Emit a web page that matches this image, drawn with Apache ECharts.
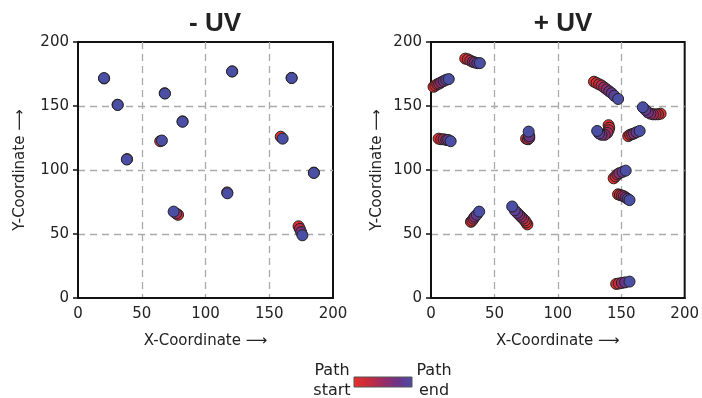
<!DOCTYPE html>
<html>
<head>
<meta charset="utf-8">
<script src="https://cdn.jsdelivr.net/npm/echarts@6/dist/echarts.min.js"></script>
<style>
  html, body { margin: 0; padding: 0; background: #fff; }
  #main { width: 702px; height: 398px; }
</style>
</head>
<body>
<div id="main"></div>
<script>
// tracks: each is a list of [x, y] from path start to path end
var minusTracks = [
    [[20.5, 171.5], [20.4, 171.8]],
    [[31, 151], [31.2, 150.8]],
    [[38.5, 108.5], [38.3, 108.2]],
    [[68, 160], [68.2, 159.7]],
    [[64.5, 122.5], [65.8, 123]],
    [[82, 138], [82, 137.7]],
    [[121, 177], [120.8, 177]],
    [[167.5, 172], [167.6, 171.8]],
    [[159, 126], [160.5, 124.5]],
    [[185, 98], [185, 97.7]],
    [[117, 82.5], [117.2, 81.8]],
    [[78.5, 65], [77, 66], [75, 67.5]],
    [[173, 56], [174, 54], [175, 51.5], [176, 49]]
];

var plusTracks = [
    [[2, 165], [3.5, 166], [5, 167], [6.5, 167.5], [8, 168.5], [10, 169.5], [12, 170.5], [14, 171]],
    [[27, 187], [29, 186.5], [31, 185.5], [33, 184.5], [34.5, 184], [36.5, 183.5], [38.5, 183.5]],
    [[6, 124.5], [8, 124], [10, 124], [12, 123.5], [13.5, 123.5], [15.5, 122.5]],
    [[75, 124.5], [76.5, 124], [77.5, 125], [77.5, 126.5], [77, 130]],
    [[128.5, 169], [130.5, 168], [132.5, 167], [134.5, 166], [136.5, 164.5], [138.5, 163], [140.5, 161.5], [142.5, 160], [144.5, 158], [147.5, 155.5]],
    [[140, 135], [140.5, 133], [140, 131], [139, 129], [137, 127.5], [134.5, 127.5], [132.5, 128.5], [131, 130.5]],
    [[181, 144], [179, 143.5], [177, 143.5], [175, 143.5], [173, 144], [171, 145], [169, 147], [167, 149]],
    [[155.5, 126.5], [157, 127.5], [158.5, 128], [160, 128.5], [162, 129.5], [164.5, 130.5]],
    [[144, 93.5], [145.5, 95], [147, 96.5], [148.5, 97.5], [151, 98.5], [153.5, 99.5]],
    [[147.5, 81], [149, 80.5], [150.5, 80], [152, 79.5], [153.5, 78.5], [155, 77.5], [156.5, 76.5]],
    [[31.5, 59.5], [32.5, 60.5], [33.5, 62], [34.5, 63.5], [36, 65], [38, 67.5]],
    [[76, 57.5], [75, 59], [74, 60.5], [72.5, 62], [71, 63.5], [69.5, 65], [68, 66.5], [66, 68.5], [64, 71.5]],
    [[146, 11], [148, 11.3], [150.5, 11.8], [153, 12.2], [156.5, 12.8]]
];

var panelTitles = ['- UV', '+ UV'];
var axisTicks = [0, 50, 100, 150, 200];
var pathColors = ['#e8302c', '#c82b3c', '#9c2c64', '#6c3488', '#4b4ea5'];

var FONT = 'DejaVu Sans';

// third value = progress along the path (0 start, 1 end)
function toData(tracks) {
    var out = [];
    tracks.forEach(function (tr) {
        var n = tr.length;
        tr.forEach(function (p, i) {
            out.push([p[0], p[1], n > 1 ? i / (n - 1) : 1]);
        });
    });
    return out;
}

var split = {
    showMinLine: false,
    showMaxLine: false,
    lineStyle: { color: '#aaa', type: [7, 5], width: 1.3 }
};

function xAxis(idx) {
    return {
        gridIndex: idx,
        type: 'value',
        min: axisTicks[0],
        max: axisTicks[axisTicks.length - 1],
        interval: 50,
        name: 'X-Coordinate \u27F6',
        nameLocation: 'middle',
        nameGap: 36,
        nameTextStyle: { fontFamily: FONT, fontSize: 15, color: '#222' },
        axisLine: { lineStyle: { color: '#111', width: 2 } },
        axisTick: { show: false },
        axisLabel: { fontFamily: FONT, fontSize: 15, color: '#222', margin: 9 },
        splitLine: split
    };
}

function yAxis(idx, gap) {
    return {
        gridIndex: idx,
        type: 'value',
        min: axisTicks[0],
        max: axisTicks[axisTicks.length - 1],
        interval: 50,
        name: 'Y-Coordinate \u27F6',
        nameLocation: 'middle',
        nameRotate: 90,
        nameGap: gap,
        nameTextStyle: { fontFamily: FONT, fontSize: 15, color: '#222' },
        axisLine: { lineStyle: { color: '#111', width: 2 } },
        axisTick: { show: true, length: 5, lineStyle: { color: '#111', width: 1.5 } },
        axisLabel: { fontFamily: FONT, fontSize: 15, color: '#222', margin: 9 },
        splitLine: split
    };
}

function scatter(idx, tracks) {
    return {
        type: 'scatter',
        xAxisIndex: idx,
        yAxisIndex: idx,
        symbolSize: 11,
        itemStyle: { borderColor: '#222', borderWidth: 1, opacity: 1 },
        data: toData(tracks)
    };
}

var chart = echarts.init(document.getElementById('main'), null, { renderer: 'canvas' });

var gradStops = pathColors.map(function (c, i) {
    return { offset: i / (pathColors.length - 1), color: c };
});

chart.setOption({
    animation: false,
    backgroundColor: '#fff',
    title: [
        { text: panelTitles[0], left: 210, top: 6, textAlign: 'center',
          textStyle: { fontFamily: 'Liberation Sans', fontWeight: 'bold', fontSize: 26, color: '#222' } },
        { text: panelTitles[1], left: 558, top: 6, textAlign: 'center',
          textStyle: { fontFamily: 'Liberation Sans', fontWeight: 'bold', fontSize: 26, color: '#222' } }
    ],
    grid: [
        { left: 78, top: 42, width: 255, height: 256, show: true, borderColor: '#111', borderWidth: 2 },
        { left: 431, top: 42, width: 255, height: 256, show: true, borderColor: '#111', borderWidth: 2 }
    ],
    xAxis: [xAxis(0), xAxis(1)],
    yAxis: [yAxis(0, 50), yAxis(1, 46)],
    visualMap: {
        show: false,
        type: 'continuous',
        dimension: 2,
        min: 0,
        max: 1,
        seriesIndex: [0, 1],
        inRange: { color: pathColors }
    },
    series: [scatter(0, minusTracks), scatter(1, plusTracks)],
    graphic: [
        { type: 'text',
          style: { x: 332, y: 361, text: 'Path\nstart', fontFamily: FONT, fontSize: 16, lineHeight: 20,
                   fill: '#222', align: 'center', verticalAlign: 'top' } },
        { type: 'rect', shape: { x: 354, y: 377, width: 58, height: 10 },
          style: { fill: new echarts.graphic.LinearGradient(0, 0, 1, 0, gradStops), stroke: '#555', lineWidth: 1 } },
        { type: 'text',
          style: { x: 434, y: 361, text: 'Path\nend', fontFamily: FONT, fontSize: 16, lineHeight: 20,
                   fill: '#222', align: 'center', verticalAlign: 'top' } }
    ]
});
</script>
</body>
</html>
